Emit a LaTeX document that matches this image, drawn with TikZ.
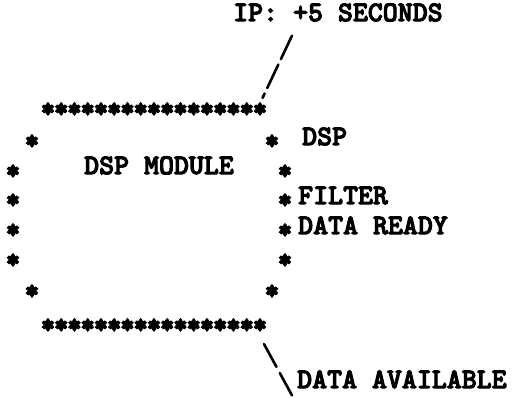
\documentclass[tikz,border=0pt]{standalone}
\usepackage{fontspec}
\newfontfamily\typer[FakeBold=3.5]{lmmonolt10-bold.otf}
\newfontfamily\starfont[FakeBold=8]{lmmonolt10-bold.otf}
\begin{document}
\begin{tikzpicture}[x=1pt,y=-1pt,
    lbl/.style={font=\typer\fontsize{28.5}{28.5}\selectfont, inner sep=0pt, anchor=mid west},
    star/.style={font=\starfont\fontsize{25}{25}\selectfont, inner sep=0pt},
    slash/.style={line width=2.6pt, line cap=round}]
  \useasboundingbox (0,0) rectangle (520,398);
  % labels
  \node[lbl] (ip) at (233,19) {IP: +5 SECONDS};
  \node[lbl] (dsp) at (302,143) {DSP};
  \node[lbl] (module) at (84,172) {DSP MODULE};
  \node[lbl] (filter) at (298,202) {FILTER};
  \node[lbl] (ready) at (298,232) {DATA READY};
  \node[lbl] (avail) at (297,386) {DATA AVAILABLE};
  % the box of stars
  \foreach \i in {0,...,16} {
    \node[star] (t\i) at ({48+13.25*\i},110) {*};
    \node[star] (b\i) at ({48+13.25*\i},326) {*};
  }
  \node[star] (l1) at (32,142) {*};
  \node[star] (l2) at (13,172) {*};
  \node[star] (l3) at (13,201) {*};
  \node[star] (l4) at (13,231) {*};
  \node[star] (l5) at (13,261) {*};
  \node[star] (l6) at (32,292) {*};
  \node[star] (r1) at (272,142) {*};
  \node[star] (r2) at (285,172) {*};
  \node[star] (r3) at (285,201) {*};
  \node[star] (r4) at (285,231) {*};
  \node[star] (r5) at (285,261) {*};
  \node[star] (r6) at (272,292) {*};
  % leaders
  \draw[slash, dash pattern=on 26pt off 6pt]
    ([shift={(59,14)}]ip.south west) -- ([shift={(2.5,-12)}]t16.center);
  \draw[slash, dash pattern=on 26pt off 7pt]
    ([shift={(4,18)}]b16.center) -- ([shift={(-5,16)}]avail.west);
\end{tikzpicture}
\end{document}
